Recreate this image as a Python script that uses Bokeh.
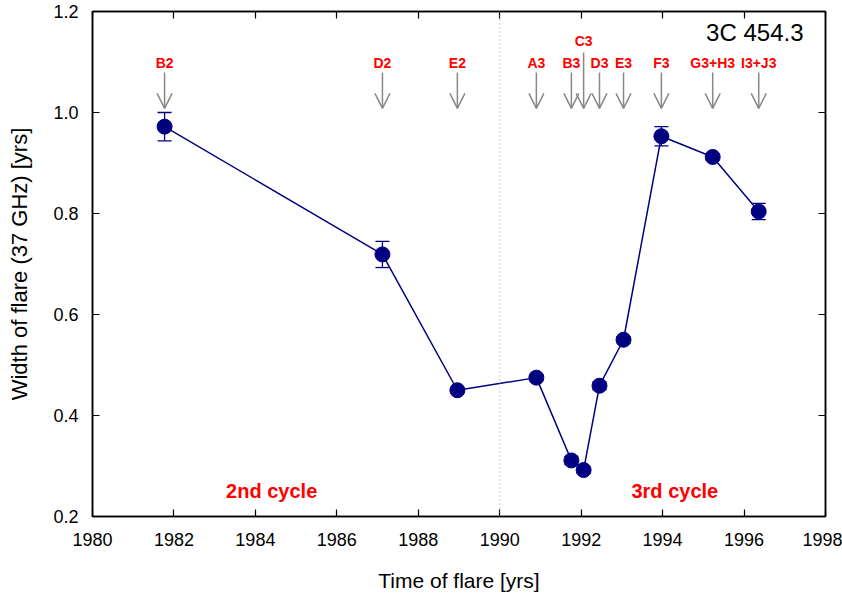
from bokeh.plotting import figure
from bokeh.models import (ColumnDataSource, Whisker, TeeHead, Arrow, OpenHead, Span,
                          LinearAxis, FixedTicker, PrintfTickFormatter, Label,
                          CustomLabelingPolicy)
from bokeh.core.properties import value
from bokeh.embed import file_html
from bokeh.resources import INLINE

# ---- data ----
flares = ["B2", "D2", "E2", "A3", "B3", "C3", "D3", "E3", "F3", "G3+H3", "I3+J3"]
flare_time = [1981.77, 1987.12, 1988.96, 1990.90, 1991.76, 1992.06, 1992.45, 1993.04, 1993.97, 1995.23, 1996.36]
flare_width = [0.972, 0.719, 0.450, 0.475, 0.311, 0.292, 0.459, 0.550, 0.953, 0.912, 0.804]
width_err = [0.028, 0.026, 0.005, 0.006, 0.008, 0.006, 0.008, 0.006, 0.019, 0.006, 0.016]
label_y = [1.099, 1.099, 1.099, 1.099, 1.099, 1.141, 1.099, 1.099, 1.099, 1.099, 1.099]
arrow_top = [1.079, 1.079, 1.079, 1.079, 1.079, 1.119, 1.079, 1.079, 1.079, 1.079, 1.079]
arrow_tip = [1.008] * 11
x_ticks = [1980, 1982, 1984, 1986, 1988, 1990, 1992, 1994, 1996, 1998]
y_ticks = [0.2, 0.4, 0.6, 0.8, 1.0, 1.2]

FONT = "Liberation Sans"
NAVY = "#000080"

src = ColumnDataSource(dict(
    x=flare_time, y=flare_width,
    upper=[v + e for v, e in zip(flare_width, width_err)],
    lower=[v - e for v, e in zip(flare_width, width_err)],
    name=flares, ly=label_y, ay0=arrow_top, ay1=arrow_tip,
))

p = figure(width=842, height=599, x_range=(1980, 1998), y_range=(0.2, 1.2),
           output_backend="svg", toolbar_location=None,
           min_border_left=92, min_border_right=17, min_border_top=11, min_border_bottom=83)
p.xgrid.visible = False
p.ygrid.visible = False
p.outline_line_color = "black"
p.outline_line_width = 1.5
p.background_fill_color = "white"
p.border_fill_color = "white"

def style_axis(ax, ticks):
    ax.ticker = FixedTicker(ticks=ticks)
    ax.major_tick_in = 7
    ax.major_tick_out = 0
    ax.minor_tick_line_color = None
    ax.axis_line_color = "black"
    ax.axis_line_width = 1.5
    ax.major_tick_line_width = 1.2
    ax.major_label_text_font = FONT
    ax.major_label_text_font_size = "18px"
    ax.major_label_text_color = "black"
    ax.axis_label_text_font = FONT
    ax.axis_label_text_font_style = "normal"
    ax.axis_label_text_color = "black"

style_axis(p.xaxis[0], x_ticks)
style_axis(p.yaxis[0], y_ticks)
p.xaxis[0].axis_label = "Time of flare [yrs]"
p.xaxis[0].axis_label_text_font_size = "21px"
p.xaxis[0].major_label_standoff = 16
p.xaxis[0].axis_label_standoff = 20
p.yaxis[0].axis_label = "Width of flare (37 GHz) [yrs]"
p.yaxis[0].axis_label_text_font_size = "22px"
p.yaxis[0].formatter = PrintfTickFormatter(format="%.1f")
p.yaxis[0].major_label_standoff = 14
p.yaxis[0].axis_label_standoff = 18

HIDE = "for (const i of [...indices]) { indices.unset(i) }; return indices"
top_ax = LinearAxis()
style_axis(top_ax, x_ticks)
top_ax.major_label_policy = CustomLabelingPolicy(code=HIDE)
top_ax.major_label_text_font_size = "0px"
top_ax.major_label_standoff = 0
right_ax = LinearAxis()
style_axis(right_ax, y_ticks)
right_ax.major_label_policy = CustomLabelingPolicy(code=HIDE)
right_ax.major_label_text_font_size = "0px"
right_ax.major_label_standoff = 0
p.add_layout(top_ax, "above")
p.add_layout(right_ax, "right")

# dotted divider at 1990
p.add_layout(Span(location=1990, dimension="height", line_color="#999999",
                  line_dash="1 3", line_width=1))

# arrows
p.add_layout(Arrow(source=src, x_start="x", y_start="ay0", x_end="x", y_end="ay1",
                   line_color="#888888", line_width=1.5,
                   end=OpenHead(size=15, line_color="#888888", line_width=1.5)))

# flare labels
p.text(x="x", y="ly", text="name", source=src, text_align="center", text_baseline="middle",
       text_font=value(FONT), text_font_style="bold", text_font_size="14px", text_color="red")

# line + error bars + markers
p.line(x="x", y="y", source=src, line_color=NAVY, line_width=1.5)
p.add_layout(Whisker(source=src, base="x", upper="upper", lower="lower",
                     line_color=NAVY, line_width=1.3,
                     upper_head=TeeHead(size=14, line_color=NAVY, line_width=1.3),
                     lower_head=TeeHead(size=14, line_color=NAVY, line_width=1.3)))
p.scatter(x="x", y="y", source=src, size=15, fill_color=NAVY, line_color=NAVY)

# annotations
p.add_layout(Label(x=1997.46, y=1.158, text="3C 454.3", text_align="right", text_baseline="middle",
                   text_font=FONT, text_font_size="24px", text_color="black"))
p.add_layout(Label(x=1984.4, y=0.251, text="2nd cycle", text_align="center", text_baseline="middle",
                   text_font=FONT, text_font_size="20px", text_font_style="bold", text_color="red"))
p.add_layout(Label(x=1994.3, y=0.251, text="3rd cycle", text_align="center", text_baseline="middle",
                   text_font=FONT, text_font_size="20px", text_font_style="bold", text_color="red"))

open("out.html", "w").write(file_html(p, INLINE))
